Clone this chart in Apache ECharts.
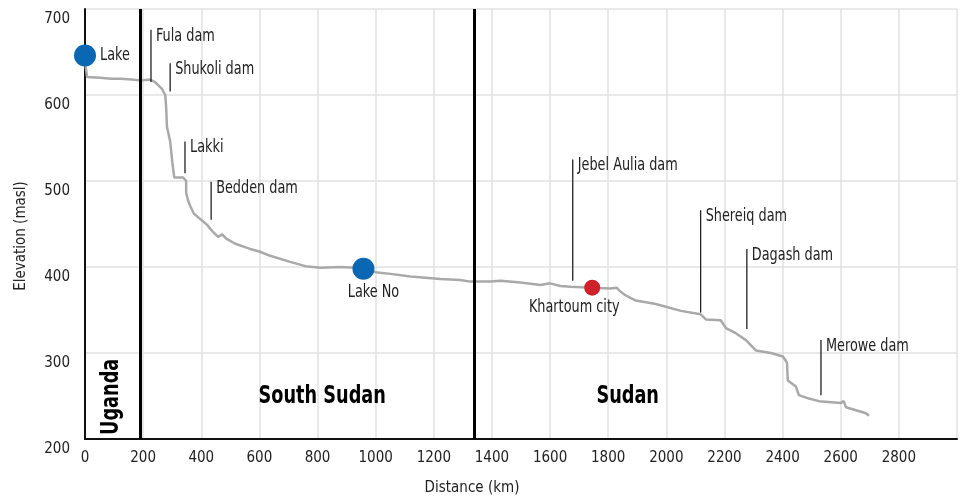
<!DOCTYPE html>
<html>
<head>
<meta charset="utf-8">
<script src="https://cdn.jsdelivr.net/npm/echarts@6/dist/echarts.min.js"></script>
<style>
  html, body { margin: 0; padding: 0; background: #fff; }
  #chart { width: 966px; height: 503px; }
</style>
</head>
<body>
<div id="chart"></div>
<script>
// river profile
const profileKm = [0, 7, 52, 90, 121, 160, 189, 224, 241, 265, 276, 279, 282, 293, 300, 307, 338, 348, 348, 355, 362, 375, 396, 420, 437, 458, 472, 486, 517, 568, 600, 637, 706, 758, 810, 878, 930, 958, 999, 1051, 1120, 1223, 1290, 1326, 1395, 1430, 1498, 1567, 1600, 1636, 1671, 1745, 1808, 1829, 1840, 1860, 1895, 1964, 2050, 2118, 2136, 2187, 2205, 2239, 2274, 2308, 2360, 2401, 2415, 2418, 2446, 2456, 2491, 2525, 2601, 2610, 2618, 2687, 2697];
const profileElev = [639, 621, 620, 619, 619, 618, 617, 618, 615, 607, 600, 587, 563, 546, 523, 504, 504, 500, 486, 477, 471, 462, 456, 449, 442, 435, 438, 433, 427, 421, 418, 413, 406, 401, 399, 400, 399, 398, 394, 392, 389, 386, 385, 383, 383, 384, 382, 379, 381, 378, 377, 376, 375, 376, 372, 367, 361, 357, 349, 345, 339, 338, 329, 323, 315, 303, 300, 296, 289, 268, 261, 251, 247, 244, 242, 244, 237, 230, 227];

const tickX = [0, 200, 400, 600, 800, 1000, 1200, 1400, 1600, 1800, 2000, 2200, 2400, 2600, 2800];
const tickY = [200, 300, 400, 500, 600, 700];

const borderKm = [190, 1340];

const countryNames = ['Uganda', 'South Sudan', 'Sudan'];
const countryKm = [93, 816, 1867];
const countryElev = [249, 249, 249];

// dams: position, bottom and top of the leader line
const damNames = ['Fula dam', 'Shukoli dam', 'Lakki', 'Bedden dam', 'Jebel Aulia dam', 'Shereiq dam', 'Dagash dam', 'Merowe dam'];
const damKm = [227, 293, 344, 434, 1678, 2118, 2277, 2532];
const damLow = [615, 604, 509, 455, 384, 347, 328, 251];
const damHigh = [676, 637, 546, 499, 525, 466, 421, 315];

const lakeNames = ['Lake', 'Lake No'];
const lakeKm = [0, 958];
const lakeElev = [646, 398];
const cityNames = ['Khartoum city'];
const cityKm = [1745];
const cityElev = [376];

const FONT = '"Liberation Sans Narrow", "DejaVu Sans Condensed", "Roboto", sans-serif';

const chart = echarts.init(document.getElementById('chart'), null, { renderer: 'canvas' });

// narrow text placed in pixel coords
function narrowText(x, y, text, align, vAlign) {
  return {
    type: 'text',
    x: x,
    y: y,
    scaleX: 0.84,
    style: {
      text: text,
      fill: '#222',
      fontFamily: FONT,
      fontSize: 17,
      align: align || 'left',
      verticalAlign: vAlign || 'top'
    }
  };
}

const option = {
  animation: false,
  grid: { left: 85, right: 9, top: 9, bottom: 64 },
  xAxis: {
    type: 'value',
    min: 0,
    max: 3000,
    interval: 200,
    name: 'Distance (km)',
    nameLocation: 'middle',
    nameGap: 42,
    nameTextStyle: { fontFamily: FONT, fontSize: 15, color: '#222', padding: [0, 98, 0, 0] },
    axisLine: { show: true, lineStyle: { color: '#111', width: 2 } },
    axisTick: { show: false },
    axisLabel: {
      fontFamily: FONT, fontSize: 15, color: '#222', margin: 12,
      showMaxLabel: false,
      formatter: v => tickX.includes(v) ? String(v) : ''
    },
    splitLine: { show: true, lineStyle: { color: '#e2e2e2', width: 1.5 } }
  },
  yAxis: {
    type: 'value',
    min: 200,
    max: 700,
    interval: 100,
    name: 'Elevation (masl)',
    nameLocation: 'middle',
    nameGap: 56,
    nameTextStyle: { fontFamily: FONT, fontSize: 15, color: '#222', padding: [0, 24, 0, 0] },
    axisLine: { show: true, lineStyle: { color: '#111', width: 2 } },
    axisTick: { show: false },
    axisLabel: {
      fontFamily: FONT, fontSize: 15, color: '#222', margin: 15,
      verticalAlign: 'top',
      padding: [3, 0, 0, 0],
      formatter: v => tickY.includes(v) ? String(v) : ''
    },
    splitLine: { show: true, lineStyle: { color: '#e2e2e2', width: 1.5 } }
  },
  series: [
    {
      name: 'profile',
      type: 'line',
      data: profileKm.map((k, i) => [k, profileElev[i]]),
      symbol: 'none',
      lineStyle: { color: '#a9a9a9', width: 2.5 },
      z: 3,
      markLine: {
        silent: true,
        symbol: 'none',
        label: { show: false },
        lineStyle: { color: '#000', width: 3, type: 'solid' },
        data: borderKm.map(k => ({ xAxis: k }))
      }
    },
    {
      name: 'dams',
      type: 'custom',
      data: damKm.map((k, i) => [k, damLow[i], damHigh[i]]),
      z: 4,
      renderItem: function (params, api) {
        const p0 = api.coord([api.value(0), api.value(1)]);
        const p1 = api.coord([api.value(0), api.value(2)]);
        return {
          type: 'group',
          children: [
            {
              type: 'line',
              shape: { x1: p0[0], y1: p0[1], x2: p1[0], y2: p1[1] },
              style: { stroke: '#222', lineWidth: 1.3 }
            },
            narrowText(p1[0] + 5, p1[1] - 2, damNames[params.dataIndex])
          ]
        };
      }
    },
    {
      name: 'countries',
      type: 'custom',
      data: countryKm.map((k, i) => [k, countryElev[i]]),
      z: 5,
      renderItem: function (params, api) {
        const p = api.coord([api.value(0), api.value(1)]);
        const vertical = params.dataIndex === 0;
        return {
          type: 'text',
          x: p[0],
          y: p[1],
          rotation: vertical ? Math.PI / 2 : 0,
          scaleX: 0.82,
          style: {
            text: countryNames[params.dataIndex],
            fill: '#000',
            fontFamily: FONT,
            fontSize: 24,
            fontWeight: 'bold',
            align: 'center',
            verticalAlign: 'middle'
          }
        };
      }
    },
    {
      name: 'lakes',
      type: 'scatter',
      symbolSize: 22,
      itemStyle: { color: '#0a67b4', opacity: 1 },
      data: lakeKm.map((k, i) => [k, lakeElev[i]]),
      z: 6
    },
    {
      name: 'city',
      type: 'scatter',
      symbolSize: 16,
      itemStyle: { color: '#d0202a', opacity: 1 },
      data: cityKm.map((k, i) => [k, cityElev[i]]),
      z: 6
    },
    {
      name: 'place labels',
      type: 'custom',
      // [km, elev, which]: 0 = Lake, 1 = Lake No, 2 = Khartoum
      data: lakeKm.map((k, i) => [k, lakeElev[i], i])
        .concat(cityKm.map((k, i) => [k, cityElev[i], 2 + i])),
      z: 7,
      renderItem: function (params, api) {
        const p = api.coord([api.value(0), api.value(1)]);
        const idx = api.value(2);
        if (idx === 0) return narrowText(p[0] + 15, p[1], lakeNames[0], 'left', 'middle');
        if (idx === 1) return narrowText(p[0] + 10, p[1] + 15, lakeNames[1], 'center');
        return narrowText(p[0] - 18, p[1] + 11, cityNames[idx - 2], 'center');
      }
    }
  ]
};

chart.setOption(option);
</script>
</body>
</html>
